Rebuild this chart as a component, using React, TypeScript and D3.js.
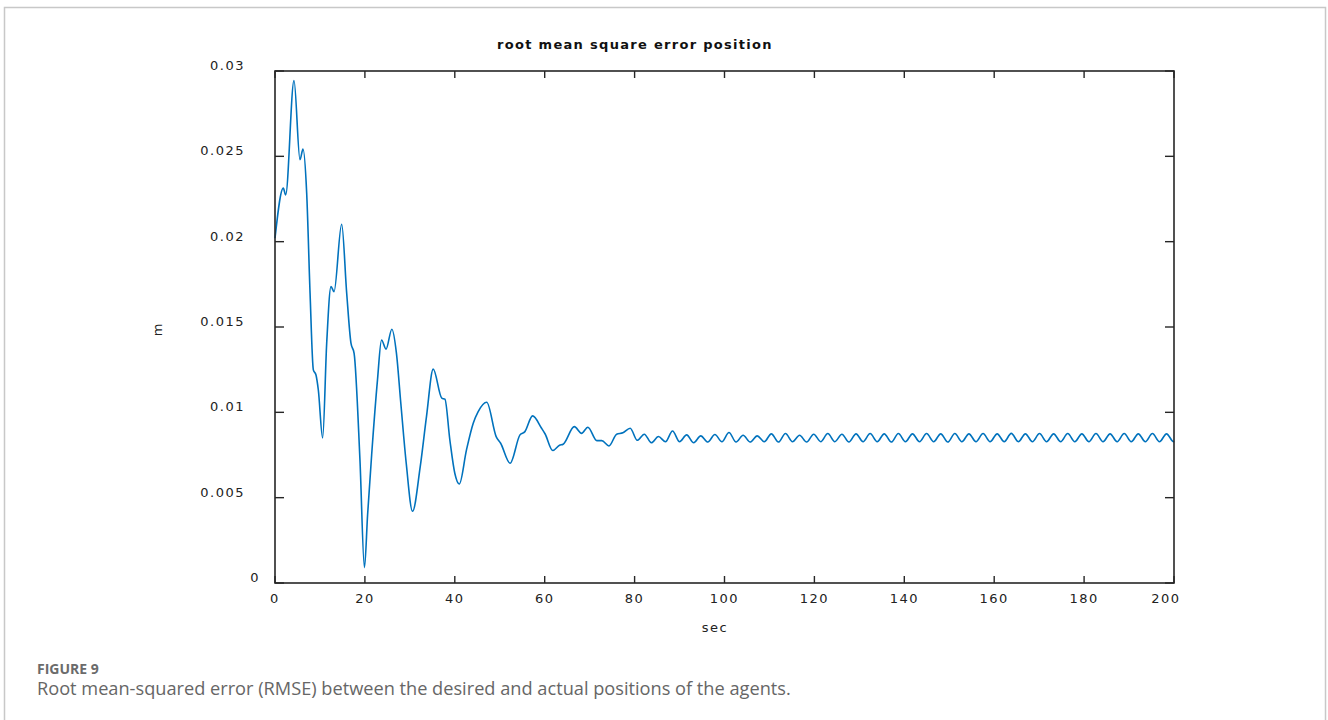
import * as d3 from "d3";

// readings of the curve, early transient part (sec, m)
const earlyT = [
  0, 1.85, 2.37, 4.23, 5.56, 6.23, 7.05, 7.8, 8.53, 9.12, 9.64, 10.6, 11.5,
  12.46, 13.13, 14.83, 15.95, 16.9, 17.6, 18.9, 19.9, 20.6, 21.5, 22.8, 23.7,
  24.7, 26.0, 27.0, 28.0, 29.2, 30.6, 32.3, 33.7, 35.2, 37.1, 37.8, 38.9, 40.0,
  41.0, 42.6, 44.1, 45.2, 47.1, 49.2, 50.2, 52.3, 54.5, 55.6, 57.3, 59.3, 60.1,
  61.8, 63.3, 64.1, 66.6, 68.2, 69.6, 71.6, 72.7, 74.3, 76.0, 77.4,
];
const earlyV = [
  0.0202, 0.02314, 0.02274, 0.02944, 0.0248, 0.02542, 0.02284, 0.01698,
  0.01249, 0.01219, 0.01131, 0.0085, 0.01405, 0.01737, 0.01707, 0.02102,
  0.01698, 0.01405, 0.01346, 0.00721, 0.0009, 0.004, 0.0075, 0.0119, 0.01424,
  0.0137, 0.01487, 0.0135, 0.0105, 0.007, 0.0042, 0.0068, 0.00975, 0.01253,
  0.01083, 0.01077, 0.00838, 0.00643, 0.0058, 0.0078, 0.00936, 0.01004,
  0.01059, 0.00858, 0.00819, 0.00702, 0.00868, 0.00887, 0.00979, 0.00907,
  0.00873, 0.00776, 0.00807, 0.00813, 0.00916, 0.00877, 0.00913, 0.00834,
  0.00834, 0.00803, 0.00872, 0.0088,
];

// steady oscillation, alternating peaks and troughs
const tailT = [
  79.02, 80.59, 82.16, 83.73, 85.3, 86.87, 88.44, 90.01, 91.58, 93.15, 94.72,
  96.29, 97.86, 99.43, 101.0, 102.57, 104.14, 105.71, 107.28, 108.85, 110.42,
  111.99, 113.56, 115.13, 116.7, 118.27, 119.84, 121.41, 122.98, 124.55,
  126.12, 127.69, 129.26, 130.83, 132.4, 133.97, 135.54, 137.11, 138.68,
  140.25, 141.82, 143.39, 144.96, 146.53, 148.1, 149.67, 151.24, 152.81,
  154.38, 155.95, 157.52, 159.09, 160.66, 162.23, 163.8, 165.37, 166.94,
  168.51, 170.08, 171.65, 173.22, 174.79, 176.36, 177.93, 179.5, 181.07,
  182.64, 184.21, 185.78, 187.35, 188.92, 190.49, 192.06, 193.63, 195.2,
  196.77, 198.34, 199.91, 200,
];
const tailV = [
  0.00907, 0.00836, 0.00872, 0.00822, 0.00858, 0.00828, 0.00891, 0.00828,
  0.00868, 0.00822, 0.00862, 0.00826, 0.0087, 0.00828, 0.00882, 0.00826,
  0.00866, 0.00826, 0.00862, 0.00828, 0.00874, 0.00826, 0.00876, 0.00828,
  0.00866, 0.00826, 0.00872, 0.00828, 0.00876, 0.00828, 0.00872, 0.00826,
  0.00874, 0.00828, 0.00876, 0.00828, 0.00874, 0.00826, 0.00876, 0.00828,
  0.00874, 0.00828, 0.00876, 0.00828, 0.00874, 0.00826, 0.00876, 0.00828,
  0.00874, 0.00828, 0.00876, 0.00828, 0.00874, 0.00828, 0.00877, 0.00828,
  0.00874, 0.00828, 0.00876, 0.00828, 0.00874, 0.00828, 0.00876, 0.00828,
  0.00874, 0.00828, 0.00876, 0.00828, 0.00874, 0.00828, 0.00876, 0.00828,
  0.00874, 0.00828, 0.00876, 0.00828, 0.00874, 0.00828, 0.0083,
];

const xTicks = [0, 20, 40, 60, 80, 100, 120, 140, 160, 180, 200];
const yTicks = [0, 0.005, 0.01, 0.015, 0.02, 0.025, 0.03];
const yTickLabels = ["0", "0.005", "0.01", "0.015", "0.02", "0.025", "0.03"];

const W = 1328;
const H = 720;
const M = { left: 275, top: 71, right: 1174, bottom: 583 };
const axisFont = "'DejaVu Sans', Arial, Helvetica, sans-serif";

const App = () => {
  const x = d3.scaleLinear().domain([0, 200]).range([M.left, M.right]);
  const y = d3.scaleLinear().domain([0, 0.03]).range([M.bottom, M.top]);

  const pts: [number, number][] = [
    ...earlyT.map((t, i) => [t, earlyV[i]] as [number, number]),
    ...tailT.map((t, i) => [t, tailV[i]] as [number, number]),
  ];
  const line = d3
    .line<[number, number]>()
    .x((d) => x(d[0]))
    .y((d) => y(d[1]))
    .curve(d3.curveMonotoneX);

  const axisColor = "#262626";

  return (
    <svg
      width={W}
      height={H}
      style={{ position: "absolute", left: 0, top: 0, background: "#fff" }}
    >
      <rect
        x={4.5}
        y={7.5}
        width={1321}
        height={800}
        fill="none"
        stroke="#c8c8c8"
        strokeWidth={1.5}
      />
      <text
        x={635}
        y={49}
        textAnchor="middle"
        fontFamily={axisFont}
        fontSize={13}
        fontWeight="bold"
        letterSpacing={1.3}
        fill="#111"
      >
        root mean square error position
      </text>

      <path
        d={line(pts) ?? ""}
        fill="none"
        stroke="#0072BD"
        strokeWidth={1.6}
        strokeLinejoin="round"
      />

      {/* box */}
      <rect
        x={M.left}
        y={M.top}
        width={M.right - M.left}
        height={M.bottom - M.top}
        fill="none"
        stroke={axisColor}
        strokeWidth={1.6}
      />

      {xTicks.map((t) => (
        <g key={"x" + t}>
          <line
            x1={x(t)}
            x2={x(t)}
            y1={M.bottom}
            y2={M.bottom - 7}
            stroke={axisColor}
            strokeWidth={1.4}
          />
          <line
            x1={x(t)}
            x2={x(t)}
            y1={M.top}
            y2={M.top + 7}
            stroke={axisColor}
            strokeWidth={1.4}
          />
          <text
            x={x(t) + (t === 200 ? -8 : 0)}
            y={M.bottom + 20}
            textAnchor="middle"
            fontFamily={axisFont}
            fontSize={13}
            letterSpacing={1.5}
            fill="#222"
          >
            {t}
          </text>
        </g>
      ))}

      {yTicks.map((v, i) => (
        <g key={"y" + v}>
          <line
            x1={M.left}
            x2={M.left + 9}
            y1={y(v)}
            y2={y(v)}
            stroke={axisColor}
            strokeWidth={1.4}
          />
          <line
            x1={M.right}
            x2={M.right - 9}
            y1={y(v)}
            y2={y(v)}
            stroke={axisColor}
            strokeWidth={1.4}
          />
          <text
            x={M.left - (v === 0 ? 15 : 30)}
            y={y(v) - 1}
            textAnchor="end"
            fontFamily={axisFont}
            fontSize={13}
            letterSpacing={1.5}
            fill="#222"
          >
            {yTickLabels[i]}
          </text>
        </g>
      ))}

      <text
        x={715}
        y={632}
        textAnchor="middle"
        fontFamily={axisFont}
        fontSize={13}
        letterSpacing={1.5}
        fill="#222"
      >
        sec
      </text>
      <text
        transform={`translate(162, ${(M.top + M.bottom) / 2 + 3}) rotate(-90)`}
        textAnchor="middle"
        fontFamily={axisFont}
        fontSize={13}
        fill="#222"
      >
        m
      </text>

      <text
        x={37}
        y={674}
        fontFamily="'Open Sans', sans-serif"
        fontSize={14}
        fontWeight="bold"
        fill="#6b6b6b"
      >
        FIGURE 9
      </text>
      <text
        x={37}
        y={695}
        fontFamily="'Open Sans', sans-serif"
        fontSize={18.2}
        fill="#666"
      >
        Root mean-squared error (RMSE) between the desired and actual positions
        of the agents.
      </text>
    </svg>
  );
};

export default App;
